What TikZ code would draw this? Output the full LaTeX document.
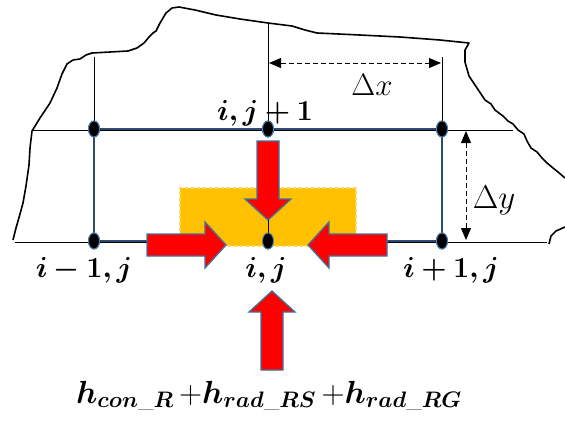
\RequirePackage{fix-cm}
\documentclass[tikz,border=0pt]{standalone}
\usepackage{amsmath}
\usepackage{bm}
\usetikzlibrary{arrows.meta,shapes.geometric}

\definecolor{heatred}{RGB}{255,0,0}
\definecolor{arrowedge}{RGB}{65,113,156}
\definecolor{cellorange}{RGB}{255,192,0}
\definecolor{celledge}{RGB}{255,214,90}
\definecolor{gridblue}{RGB}{45,75,115}
\definecolor{dotblue}{RGB}{80,125,175}

\begin{document}
\begin{tikzpicture}[x=1pt, y=-1pt,
    outline/.style={line width=1.6pt, line join=round},
    thinline/.style={line width=0.8pt},
    boxline/.style={line width=1.6pt, draw=gridblue},
    gridpt/.style={ellipse, fill=black, draw=dotblue, line width=1pt,
      minimum width=11pt, minimum height=16pt, inner sep=0pt},
    dimarrow/.style={thinline, dash pattern=on 5pt off 3pt,
      {Triangle[length=12pt,width=10pt]}-{Triangle[length=12pt,width=10pt]}},
    lbl/.style={font=\fontsize{29}{34}\selectfont, inner sep=0pt, anchor=base},
    heatarrow/.pic={
      \draw[fill=heatred, draw=arrowedge, line width=1.3pt, line join=miter]
        (0,-11) -- (58,-11) -- (58,-23) -- (79,0) -- (58,23) -- (58,11)
        -- (0,11) -- cycle;
    }
  ]
  \useasboundingbox (0,0) rectangle (565,421);

  % rough outline of the body
  \draw[outline] (13,240) -- (16,228) -- (20,214) -- (23,203) -- (26,186)
    -- (29,165) -- (30,148) -- (32,131) -- (40,118) -- (50,103) -- (57,88)
    -- (62,74) -- (67,64) -- (73,60) -- (80,59) -- (86,55) -- (92,53)
    -- (110,52) -- (128,51) -- (137,48) -- (144,43) -- (149,37) -- (153,33)
    -- (156,31) -- (160,23) -- (166,13) -- (172,8) -- (179,7) -- (195,10)
    -- (216,15) -- (240,19) -- (268,23) -- (292,26) -- (305,30) -- (317,33)
    -- (360,35) -- (400,37) -- (440,40) -- (469,43) -- (465,50) -- (465,62)
    -- (469,76) -- (477,88) -- (485,100) -- (491,104) -- (495,110)
    -- (503,116) -- (508,121) -- (513,124) -- (518,130) -- (524,134)
    -- (527,141) -- (531,148) -- (537,152) -- (542,158) -- (547,163)
    -- (553,168) -- (558,172) -- (565,178);
  \draw[outline] (549,244) -- (551,236) -- (556,231) -- (565,227);

  % grid points
  \node[gridpt] (tl) at (94,129) {};
  \node[gridpt] (tm) at (268,129) {};
  \node[gridpt] (tr) at (442,129) {};
  \node[gridpt] (bl) at (94,241) {};
  \node[gridpt] (bm) at (268,241) {};
  \node[gridpt] (br) at (442,241) {};

  \coordinate (topw) at (32,130);
  \coordinate (tope) at (513,130);
  \coordinate (botw) at (15,242);
  \coordinate (bote) at (547,242);
  \coordinate (lup) at (94,57);
  \coordinate (mup) at (268,23);
  \coordinate (rup) at (442,57);

  \draw[thinline] (topw) -- (tope);
  \draw[thinline] (botw) -- (bote);
  \draw[thinline] (lup) -- (tl.center);
  \draw[thinline] (mup) -- (tm.center);
  \draw[thinline] (rup) -- (tr.center);

  \draw[boxline] (tl.center) -- (tr.center) -- (br.center) -- (bl.center)
    -- cycle;

  % control volume
  \node[fill=cellorange, draw=celledge, dashed, line width=1.2pt,
    minimum width=176pt, minimum height=58pt, inner sep=0pt] (cell)
    at (268,217) {};

  % heat fluxes
  \pic[rotate=-90] at (268,141) {heatarrow};
  \pic at (147,245) {heatarrow};
  \pic[rotate=180] at (387,245) {heatarrow};
  \pic[rotate=90] at (272,370) {heatarrow};
  \coordinate (tip) at (268,220);
  \draw[line width=1pt] (tip) -- (bm.center);

  \foreach \p in {tl,tm,tr,bl,bm,br}
    \node[gridpt] at (\p) {};

  % spacings
  \coordinate (dxa) at (269,63);
  \coordinate (dxb) at (441,63);
  \coordinate (dya) at (466,131);
  \coordinate (dyb) at (466,240);
  \draw[dimarrow] (dxa) -- (dxb);
  \draw[dimarrow] (dya) -- (dyb);
  \node[lbl, font=\fontsize{31}{36}\selectfont] (dx) at (372,95)
    {$\Delta x$};
  \node[lbl, font=\fontsize{33}{38}\selectfont] (dy) at (494,208)
    {$\Delta y$};

  % labels
  \node[lbl] (ltm) at (265,120) {$\bm{i,j+1}$};
  \node[lbl] (lbl) at (84,277) {$\bm{i-1,j}$};
  \node[lbl] (lbm) at (266,277) {$\bm{i,j}$};
  \node[lbl] (lbr) at (451,277) {$\bm{i+1,j}$};
  \node[lbl, font=\fontsize{32}{38}\selectfont] (flux) at (269,403)
    {$\bm{h}_{\bm{con\_R}}\,{+}\bm{h}_{\bm{rad\_RS}}\,{+}\bm{h}_{\bm{rad\_RG}}$};
\end{tikzpicture}
\end{document}
